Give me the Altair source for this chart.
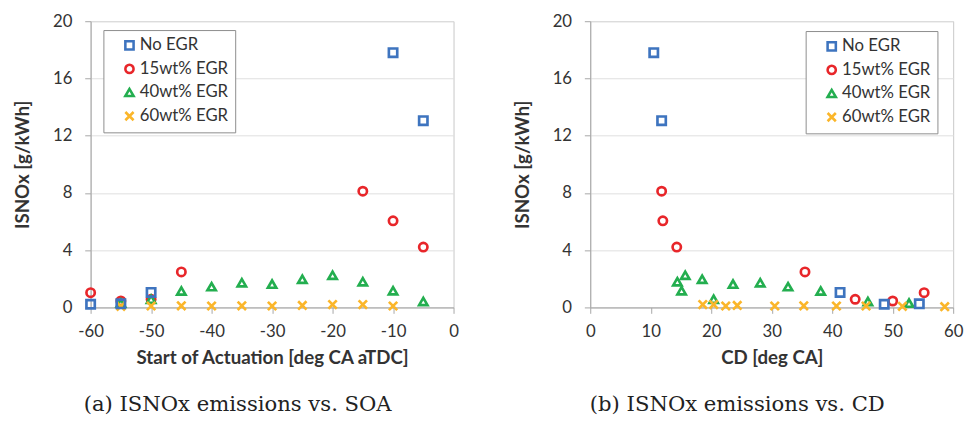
import altair as alt
import pandas as pd

series = ["No EGR", "15wt% EGR", "40wt% EGR", "60wt% EGR"]
colors = ["#3e74bf", "#e8262a", "#23ae4f", "#fbb62a"]
shapes = ["square", "circle", "triangle-up", "M-1,-1L1,1M-1,1L1,-1"]

# (a) ISNOx vs. Start of Actuation
soa_no_x = [-60, -55, -50, -10, -5]
soa_no_y = [0.22, 0.25, 1.05, 17.8, 13.05]
soa_15_x = [-60, -55, -50, -45, -15, -10, -5]
soa_15_y = [1.03, 0.45, 0.57, 2.48, 8.12, 6.05, 4.22]
soa_40_x = [-55, -50, -45, -40, -35, -30, -25, -20, -15, -10, -5]
soa_40_y = [0.3, 0.57, 1.15, 1.45, 1.72, 1.63, 1.97, 2.25, 1.79, 1.17, 0.41]
soa_60_x = [-55, -50, -45, -40, -35, -30, -25, -20, -15, -10]
soa_60_y = [0.08, 0.1, 0.11, 0.1, 0.11, 0.1, 0.14, 0.2, 0.2, 0.1]

# (b) ISNOx vs. CD
cd_no_x = [10.5, 11.8, 41.3, 48.6, 54.4]
cd_no_y = [17.8, 13.05, 1.05, 0.22, 0.25]
cd_15_x = [11.8, 12.0, 14.3, 35.5, 43.8, 50.0, 55.2]
cd_15_y = [8.12, 6.05, 4.22, 2.48, 0.57, 0.45, 1.03]
cd_40_x = [14.4, 15.1, 15.7, 18.5, 20.4, 23.6, 28.1, 32.7, 38.1, 45.9, 52.7]
cd_40_y = [1.79, 1.17, 2.25, 1.97, 0.57, 1.63, 1.72, 1.45, 1.15, 0.41, 0.3]
cd_60_x = [18.6, 20.4, 22.4, 24.3, 30.5, 35.3, 40.7, 45.6, 51.6, 58.6]
cd_60_y = [0.2, 0.2, 0.1, 0.14, 0.1, 0.11, 0.1, 0.1, 0.08, 0.05]


def frame(groups):
    rows = []
    for name, xs, ys in groups:
        for x, y in zip(xs, ys):
            rows.append({"series": name, "x": x, "y": y})
    return pd.DataFrame(rows)


df_a = frame([(series[0], soa_no_x, soa_no_y), (series[1], soa_15_x, soa_15_y),
              (series[2], soa_40_x, soa_40_y), (series[3], soa_60_x, soa_60_y)])
df_b = frame([(series[0], cd_no_x, cd_no_y), (series[1], cd_15_x, cd_15_y),
              (series[2], cd_40_x, cd_40_y), (series[3], cd_60_x, cd_60_y)])

AX_FONT = "Lato"
TXT = "#333333"


def panel(df, xdomain, xtitle, caption, legx, legy):
    legend = alt.Legend(
        title=None, orient="none", legendX=legx, legendY=legy,
        strokeColor="#8c8c8c", fillColor="white", padding=7,
        labelFont=AX_FONT, labelFontSize=17, labelColor=TXT,
        symbolSize=70, symbolStrokeWidth=2.6, symbolOffset=11,
        rowPadding=5, labelOffset=2, labelLimit=200,
    )
    return alt.Chart(df).mark_point(filled=False, strokeWidth=2.7, size=72, opacity=1).encode(
        x=alt.X("x:Q", scale=alt.Scale(domain=xdomain, nice=False),
                axis=alt.Axis(title=xtitle, values=list(range(xdomain[0], xdomain[1] + 1, 10)),
                              labelExpr="'' + datum.value",
                              grid=False, tickSize=6, tickColor="#a6a6a6", labelFlush=False,
                              domainColor="#a6a6a6", labelFontSize=17, labelFont=AX_FONT,
                              labelColor=TXT, labelPadding=11,
                              titleFont=AX_FONT, titleFontSize=19, titleFontWeight="bold",
                              titleColor=TXT, titlePadding=9)),
        y=alt.Y("y:Q", scale=alt.Scale(domain=[0, 20], nice=False),
                axis=alt.Axis(title="ISNOx [g/kWh]", values=[0, 4, 8, 12, 16, 20],
                              grid=True, gridColor="#dedede", tickSize=6, tickColor="#a6a6a6",
                              domainColor="#a6a6a6", labelFontSize=17, labelFont=AX_FONT,
                              labelColor=TXT, labelPadding=13, labelFlush=False,
                              titleFont=AX_FONT, titleFontSize=19, titleFontWeight="bold",
                              titleColor=TXT, titlePadding=20)),
        color=alt.Color("series:N", scale=alt.Scale(domain=series, range=colors), legend=legend),
        shape=alt.Shape("series:N", scale=alt.Scale(domain=series, range=shapes), legend=legend),
        order=alt.Order("series:N"),
    ).properties(
        width=369, height=291,
        title=alt.TitleParams(caption, orient="bottom", font="DejaVu Serif", fontSize=21.5,
                              fontWeight="normal", color="#222222", offset=27, anchor="middle",
                              dx=-35),
    )


left = panel(df_a, [-60, 0], "Start of Actuation [deg CA aTDC]", "(a) ISNOx emissions vs. SOA", 13, 9)
right = panel(df_b, [0, 60], "CD [deg CA]", "(b) ISNOx emissions vs. CD", 219, 10)

chart = alt.hconcat(left, right, spacing=54).resolve_scale(
    color="independent", shape="independent"
).resolve_legend(color="independent", shape="independent").configure_view(
    stroke="#c8c8c8"
).properties(padding={"left": 5, "top": 0, "right": 0, "bottom": 0})

chart.save("out.html", embed_options={"renderer": "svg", "actions": False})
